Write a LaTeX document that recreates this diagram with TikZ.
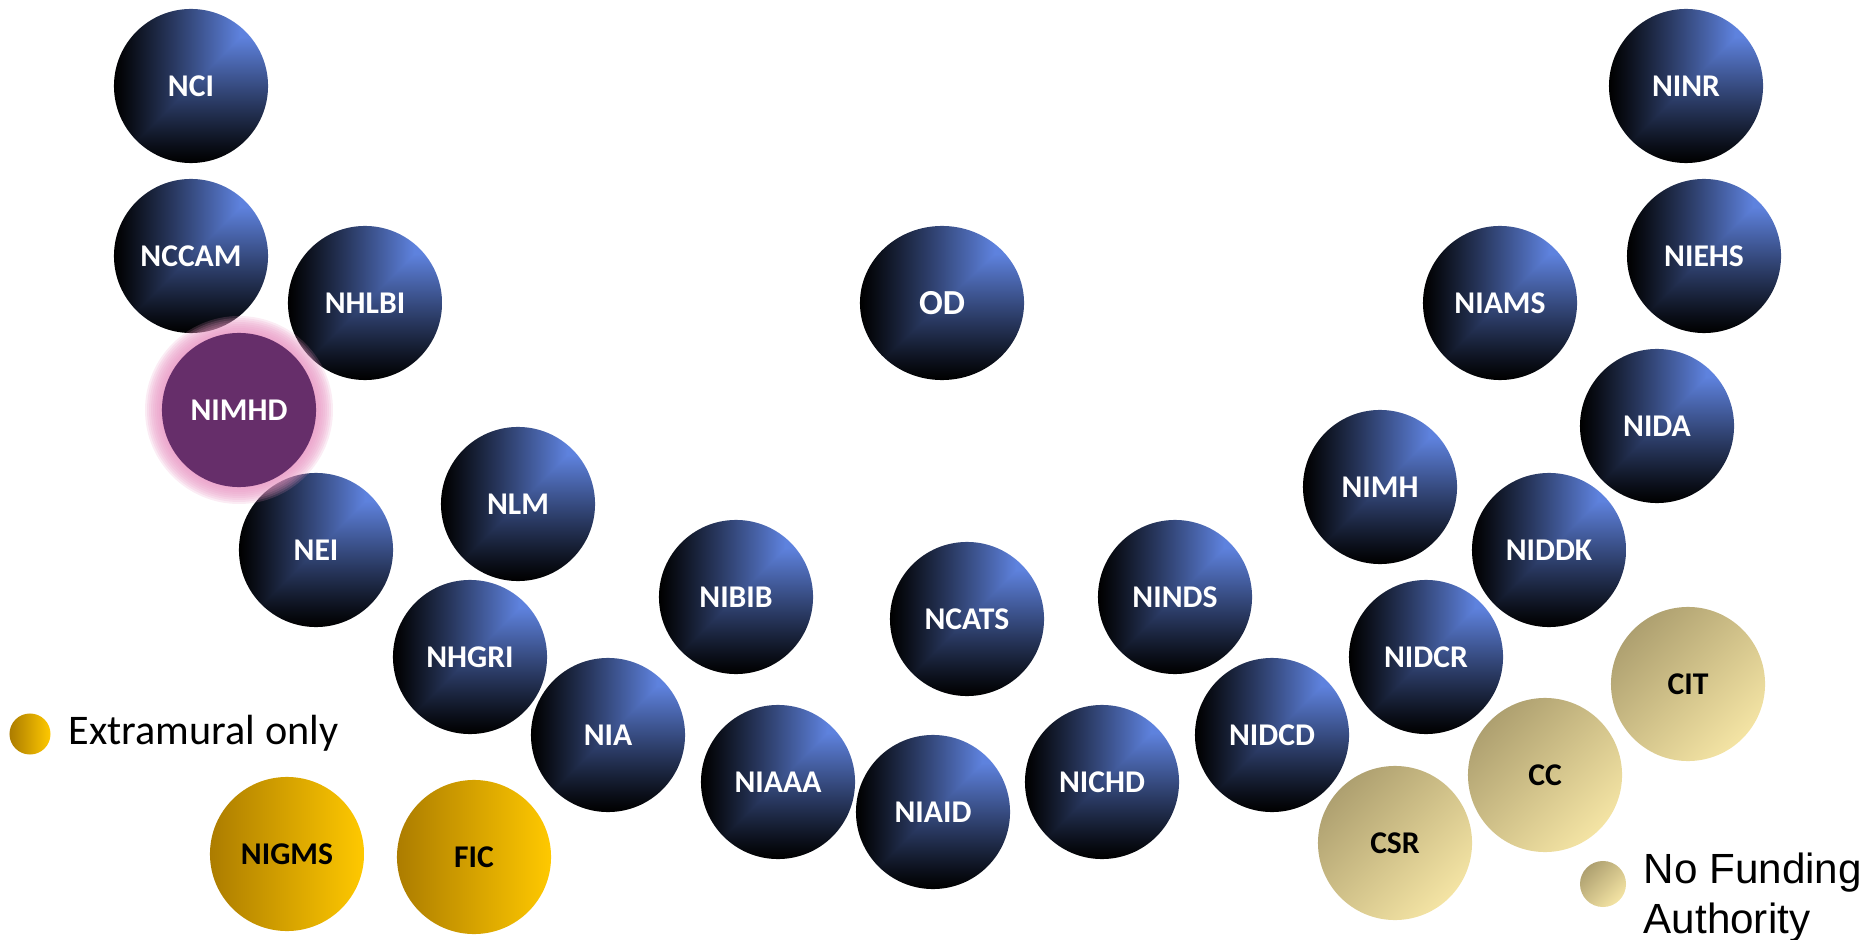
\documentclass[tikz,border=0pt]{standalone}
\usepackage{fontspec}
\setmainfont{Carlito}
\newfontfamily\arialfont{Liberation Sans}
\usetikzlibrary{shapes.geometric}
\definecolor{goldA}{RGB}{172,124,0}
\definecolor{goldB}{RGB}{255,201,0}
\definecolor{tanA}{RGB}{174,160,112}
\definecolor{tanB}{RGB}{244,228,164}
\definecolor{nimhdfill}{RGB}{102,46,106}
\definecolor{glowpink}{RGB}{232,150,195}
% dark blue ball: brightest at the top right corner
\pgfdeclarefunctionalshading{orbshade}{\pgfpointorigin}{\pgfpoint{100bp}{100bp}}{}{
  75 exch sub exch 75 exch sub
  2 copy lt {exch} if pop
  50 div 1 exch sub 0.82 div
  dup 0 lt {pop 0} if
  dup 1 gt {pop 1} if
  1.1 exp
  dup 0.37 mul exch dup 0.51 mul exch 0.87 mul
}

\begin{document}
\begin{tikzpicture}[x=0.01cm,y=-0.01cm,
    ball/.style={circle,minimum size=1.54cm,inner sep=0pt,font=\bfseries\fontsize{9}{11}\selectfont},
    orb/.style={ball,shading=orbshade,text=white},
    extra/.style={ball,left color=goldA,right color=goldB,text=black},
    nofund/.style={ball,left color=tanA,right color=tanB,shading angle=45,text=black}]
\useasboundingbox (0,0) rectangle (1876,940);
% institutes
\node[orb] (nci)   at (191,86)   {NCI};
\node[orb] (nccam) at (191,256)  {NCCAM};
\node[orb] (nhlbi) at (365,303)  {NHLBI};
\node[orb] (nei)   at (316,550)  {NEI};
\node[orb] (nlm)   at (518,504)  {NLM};
\node[orb] (nhgri) at (470,657)  {NHGRI};
\node[orb] (nia)   at (608,735)  {NIA};
\node[orb] (nibib) at (736,597)  {NIBIB};
\node[orb] (niaaa) at (778,782)  {NIAAA};
\node[orb] (niaid) at (933,812)  {NIAID};
\node[orb] (ncats) at (967,619)  {NCATS};
\node[orb,ellipse,minimum width=1.64cm,font=\bfseries\fontsize{10}{12}\selectfont] (od) at (942,303) {OD};
\node[orb] (nichd) at (1102,782) {NICHD};
\node[orb] (ninds) at (1175,597) {NINDS};
\node[orb] (nidcd) at (1272,735) {NIDCD};
\node[orb] (nimh)  at (1380,487) {NIMH};
\node[orb] (nidcr) at (1426,657) {NIDCR};
\node[orb] (niddk) at (1549,550) {NIDDK};
\node[orb] (nida)  at (1657,426) {NIDA};
\node[orb] (niams) at (1500,303) {NIAMS};
\node[orb] (niehs) at (1704,256) {NIEHS};
\node[orb] (ninr)  at (1686,86)  {NINR};
% extramural only
\node[extra] (nigms) at (287,854) {NIGMS};
\node[extra] (fic)   at (474,857) {FIC};
% no funding authority
\node[nofund] (cit) at (1688,684) {CIT};
\node[nofund] (cc)  at (1545,775) {CC};
\node[nofund] (csr) at (1395,843) {CSR};
% NIMHD with glow
\coordinate (nimhdc) at (239,410);
\foreach \g in {1,...,9}
  \fill[glowpink,fill opacity=0.18] (nimhdc) circle (76+2*\g);
\node[ball,fill=nimhdfill,text=white] (nimhd) at (nimhdc) {NIMHD};
% legend
\node[circle,inner sep=0pt,minimum width=0.39cm,minimum height=0.41cm,left color=goldA,right color=goldB] (extdot) at (30,734) {};
\node[anchor=west,inner sep=0pt,font=\fontsize{12}{14}\selectfont] (exttext) at (68,733) {Extramural only};
\node[circle,inner sep=0pt,minimum size=0.46cm,left color=tanA,right color=tanB,shading angle=45] (nfdot) at (1603,884) {};
\node[anchor=base west,inner sep=0pt,align=left,font=\arialfont\fontsize{12}{14.2}\selectfont] (nftext) at (1643,933) {No Funding\\Authority};
\end{tikzpicture}
\end{document}
